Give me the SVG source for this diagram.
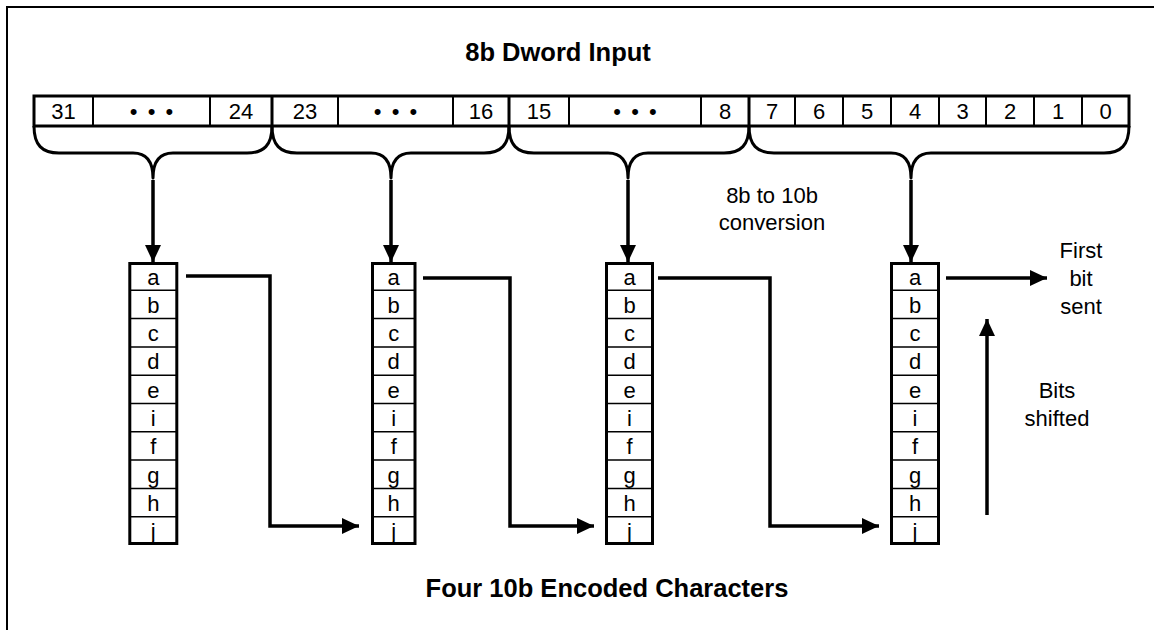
<svg xmlns="http://www.w3.org/2000/svg" width="1154" height="630" viewBox="0 0 1154 630">
<defs>
<style>
.t{font-family:"Liberation Sans",Arial,sans-serif;font-size:22px;fill:#000;text-anchor:middle}
.b{font-family:"Liberation Sans",Arial,sans-serif;font-size:25.5px;font-weight:bold;fill:#000;text-anchor:middle}
.thick{fill:none;stroke:#000;stroke-width:3}
.thin{fill:none;stroke:#000;stroke-width:1.5}
.div{fill:none;stroke:#000;stroke-width:2}
.brace{fill:none;stroke:#000;stroke-width:3;stroke-linejoin:round}
.conn{fill:none;stroke:#000;stroke-width:3.5;marker-end:url(#ah)}
</style>
<marker id="ah" markerUnits="userSpaceOnUse" markerWidth="18" markerHeight="17" refX="17" refY="8" orient="auto">
<path d="M0,0 L17,8 L0,16 z" fill="#000"/>
</marker>
</defs>
<rect width="1154" height="630" fill="#fff"/>
<path d="M7,630 V7 H1154" fill="none" stroke="#000" stroke-width="2"/>

<g id="title"><text class="b" x="558" y="61">8b Dword Input</text></g>

<g id="dword">
<rect class="thick" x="34" y="96" width="1095" height="30" fill="#fff"/>
<path class="div" d="M93,96V126M210,96V126M338,96V126M453,96V126M569,96V126M701,96V126M795,96V126M843,96V126M891,96V126M939,96V126M986,96V126M1034,96V126M1082,96V126"/>
<path class="thick" d="M272,96V126M509,96V126M749,96V126"/>
<g class="t">
<text x="63.5" y="119">31</text>
<text x="151.5" y="119" word-spacing="4">• • •</text>
<text x="241" y="119">24</text>
<text x="305" y="119">23</text>
<text x="395.5" y="119" word-spacing="4">• • •</text>
<text x="481" y="119">16</text>
<text x="539" y="119">15</text>
<text x="635" y="119" word-spacing="4">• • •</text>
<text x="725" y="119">8</text>
<text x="772" y="119">7</text>
<text x="819" y="119">6</text>
<text x="867" y="119">5</text>
<text x="915" y="119">4</text>
<text x="962.5" y="119">3</text>
<text x="1010" y="119">2</text>
<text x="1058" y="119">1</text>
<text x="1105.5" y="119">0</text>
</g>
</g>

<g id="braces">
<path class="brace" d="M34,126 C34,145 42,153 59,153 L133,153 C145,153 153,160 153,178 C153,160 161,153 173,153 L247,153 C264,153 272,145 272,126"/>
<path class="brace" d="M272,126 C272,145 280,153 297,153 L371,153 C383,153 391,160 391,178 C391,160 399,153 411,153 L484,153 C501,153 509,145 509,126"/>
<path class="brace" d="M509,126 C509,145 517,153 534,153 L608,153 C620,153 628,160 628,178 C628,160 636,153 648,153 L724,153 C741,153 749,145 749,126"/>
<path class="brace" d="M749,126 C749,145 757,153 774,153 L891,153 C903,153 911,160 911,178 C911,160 919,153 931,153 L1104,153 C1121,153 1129,145 1129,126"/>
</g>

<g id="label-conv" class="t">
<text x="772" y="203">8b to 10b</text>
<text x="772" y="230">conversion</text>
</g>

<g id="char1">
<rect class="thick" x="129.8" y="263.5" width="47" height="280"/>
<path class="thin" d="M129.8,290.3H176.8M129.8,318.6H176.8M129.8,346.9H176.8M129.8,375.2H176.8M129.8,403.5H176.8M129.8,431.8H176.8M129.8,460.1H176.8M129.8,488.4H176.8M129.8,516.7H176.8"/>
<g class="t">
<text x="153.3" y="284.5">a</text><text x="153.3" y="312.8">b</text><text x="153.3" y="341.1">c</text><text x="153.3" y="369.4">d</text><text x="153.3" y="397.7">e</text><text x="153.3" y="426">i</text><text x="153.3" y="454.3">f</text><text x="153.3" y="482.6">g</text><text x="153.3" y="510.9">h</text><text x="153.3" y="539.2">j</text>
</g>
</g>

<g id="char2">
<rect class="thick" x="372.5" y="263.5" width="42.5" height="280"/>
<path class="thin" d="M372.5,290.3H415M372.5,318.6H415M372.5,346.9H415M372.5,375.2H415M372.5,403.5H415M372.5,431.8H415M372.5,460.1H415M372.5,488.4H415M372.5,516.7H415"/>
<g class="t">
<text x="393.7" y="284.5">a</text><text x="393.7" y="312.8">b</text><text x="393.7" y="341.1">c</text><text x="393.7" y="369.4">d</text><text x="393.7" y="397.7">e</text><text x="393.7" y="426">i</text><text x="393.7" y="454.3">f</text><text x="393.7" y="482.6">g</text><text x="393.7" y="510.9">h</text><text x="393.7" y="539.2">j</text>
</g>
</g>

<g id="char3">
<rect class="thick" x="606.5" y="263.5" width="46" height="280"/>
<path class="thin" d="M606.5,290.3H652.5M606.5,318.6H652.5M606.5,346.9H652.5M606.5,375.2H652.5M606.5,403.5H652.5M606.5,431.8H652.5M606.5,460.1H652.5M606.5,488.4H652.5M606.5,516.7H652.5"/>
<g class="t">
<text x="629.5" y="284.5">a</text><text x="629.5" y="312.8">b</text><text x="629.5" y="341.1">c</text><text x="629.5" y="369.4">d</text><text x="629.5" y="397.7">e</text><text x="629.5" y="426">i</text><text x="629.5" y="454.3">f</text><text x="629.5" y="482.6">g</text><text x="629.5" y="510.9">h</text><text x="629.5" y="539.2">j</text>
</g>
</g>

<g id="char4">
<rect class="thick" x="891.5" y="263.5" width="47" height="280"/>
<path class="thin" d="M891.5,290.3H938.5M891.5,318.6H938.5M891.5,346.9H938.5M891.5,375.2H938.5M891.5,403.5H938.5M891.5,431.8H938.5M891.5,460.1H938.5M891.5,488.4H938.5M891.5,516.7H938.5"/>
<g class="t">
<text x="915" y="284.5">a</text><text x="915" y="312.8">b</text><text x="915" y="341.1">c</text><text x="915" y="369.4">d</text><text x="915" y="397.7">e</text><text x="915" y="426">i</text><text x="915" y="454.3">f</text><text x="915" y="482.6">g</text><text x="915" y="510.9">h</text><text x="915" y="539.2">j</text>
</g>
</g>

<g id="connectors">
<path class="conn" d="M153,180 V262"/>
<path class="conn" d="M391,180 V262"/>
<path class="conn" d="M628,180 V262"/>
<path class="conn" d="M911,180 V262"/>
<path class="conn" d="M186,276 H270 V526 H359"/>
<path class="conn" d="M423,278 H510 V526 H594"/>
<path class="conn" d="M658,278 H770 V526 H879"/>
<path class="conn" d="M946,278 H1047"/>
<path class="conn" d="M987,515 V319"/>
</g>

<g id="label-first" class="t">
<text x="1081" y="258">First</text>
<text x="1081" y="286">bit</text>
<text x="1081" y="314">sent</text>
</g>
<g id="label-shift" class="t">
<text x="1057" y="398">Bits</text>
<text x="1057" y="426">shifted</text>
</g>

<g id="footer"><text class="b" x="607" y="597">Four 10b Encoded Characters</text></g>
</svg>
